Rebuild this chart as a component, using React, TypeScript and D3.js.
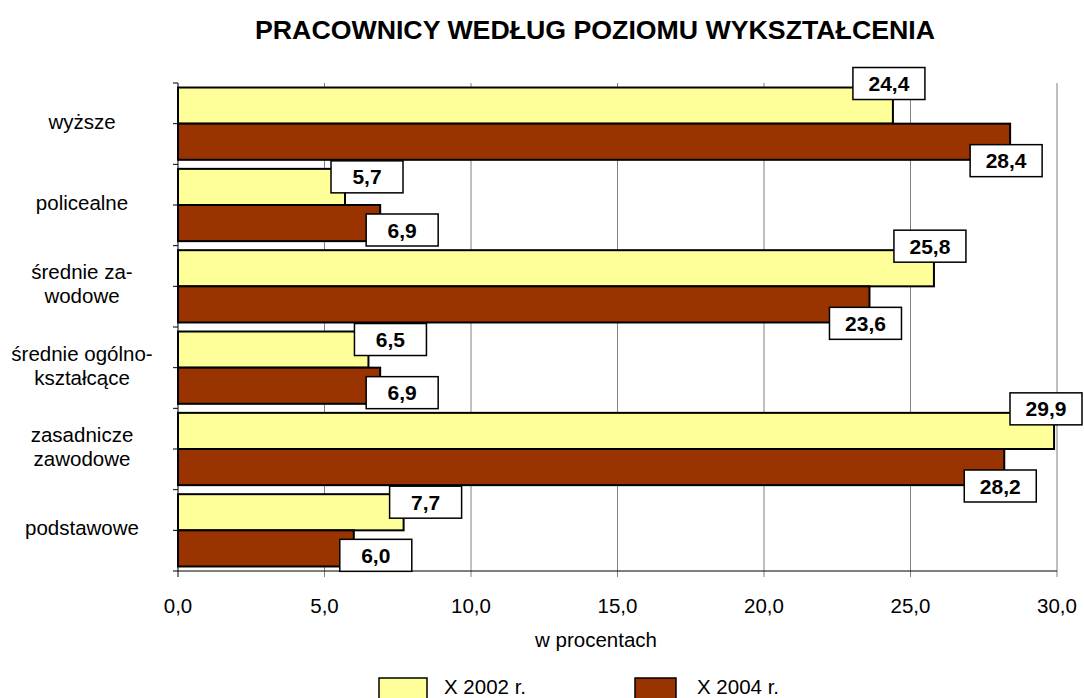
import React, { useEffect, useRef } from 'react';
import * as d3 from 'd3';

const categories = [
  ['wyższe'],
  ['policealne'],
  ['średnie za-', 'wodowe'],
  ['średnie ogólno-', 'kształcące'],
  ['zasadnicze', 'zawodowe'],
  ['podstawowe'],
];
const seriesNames = ['X 2002 r.', 'X 2004 r.'];
const values2002 = [24.4, 5.7, 25.8, 6.5, 29.9, 7.7];
const values2004 = [28.4, 6.9, 23.6, 6.9, 28.2, 6.0];
const xTicks = [0, 5, 10, 15, 20, 25, 30];

const colors = ['#FFFF99', '#993300'];
const fmt = (v: number) => v.toFixed(1).replace('.', ',');
const font = 'Arial, "Liberation Sans", sans-serif';

const App: React.FC = () => {
  const svgRef = useRef<SVGSVGElement>(null);

  useEffect(() => {
    if (!svgRef.current) return;
    const svg = d3.select(svgRef.current);
    svg.selectAll('*').remove();

    const left = 178, right = 1057, top = 83, bottom = 571;

    const x = d3.scaleLinear().domain([0, 30]).range([left, right]);
    const y = d3.scaleBand<number>()
      .domain(d3.range(categories.length))
      .range([top, bottom]);
    const inner = d3.scaleBand<number>()
      .domain([0, 1])
      .range([0, y.bandwidth()])
      .paddingOuter(0.125)
      .paddingInner(0);

    svg.append('text')
      .attr('x', 255).attr('y', 39)
      .attr('textLength', 680).attr('lengthAdjust', 'spacingAndGlyphs')
      .attr('font-family', font).attr('font-weight', 'bold').attr('font-size', '25px')
      .text('PRACOWNICY WEDŁUG POZIOMU WYKSZTAŁCENIA');

    // gridlines
    svg.append('g').selectAll('line')
      .data(xTicks.slice(1))
      .enter().append('line')
      .attr('x1', d => x(d)).attr('x2', d => x(d))
      .attr('y1', top).attr('y2', bottom + 6)
      .attr('stroke', '#808080').attr('stroke-width', 1);

    // bars
    const series = [values2002, values2004];
    series.forEach((vals, s) => {
      svg.append('g').selectAll('rect')
        .data(vals)
        .enter().append('rect')
        .attr('x', x(0))
        .attr('y', (_, i) => (y(i) as number) + (inner(s) as number))
        .attr('width', d => x(d) - x(0))
        .attr('height', inner.bandwidth())
        .attr('fill', colors[s])
        .attr('stroke', '#000').attr('stroke-width', 2);
    });

    // axes
    svg.append('line')
      .attr('x1', left).attr('x2', left).attr('y1', top).attr('y2', bottom + 6)
      .attr('stroke', '#000').attr('stroke-width', 1);
    svg.append('line')
      .attr('x1', left).attr('x2', right).attr('y1', bottom).attr('y2', bottom)
      .attr('stroke', '#000').attr('stroke-width', 1);
    const halfTicks = d3.range(categories.length * 2 + 1).map(k => top + k * y.bandwidth() / 2);
    svg.append('g').selectAll('line')
      .data(halfTicks)
      .enter().append('line')
      .attr('x1', left - 5).attr('x2', left)
      .attr('y1', d => d).attr('y2', d => d)
      .attr('stroke', '#000').attr('stroke-width', 1);

    // x tick labels
    svg.append('g').selectAll('text')
      .data(xTicks)
      .enter().append('text')
      .attr('x', d => x(d)).attr('y', 613)
      .attr('text-anchor', 'middle')
      .attr('font-family', font).attr('font-size', '20.5px')
      .text(d => fmt(d));

    svg.append('text')
      .attr('x', 596).attr('y', 647)
      .attr('text-anchor', 'middle')
      .attr('font-family', font).attr('font-size', '20.5px')
      .text('w procentach');

    // category labels
    categories.forEach((lines, i) => {
      const cy = (y(i) as number) + y.bandwidth() / 2;
      const t = svg.append('text')
        .attr('text-anchor', 'middle')
        .attr('font-family', font).attr('font-size', '20.5px');
      lines.forEach((ln, j) => {
        t.append('tspan')
          .attr('x', 82)
          .attr('y', cy + 5 + (j - (lines.length - 1) / 2) * 24)
          .text(ln);
      });
    });

    // data labels
    const boxW = 72, boxH = 32;
    series.forEach((vals, s) => {
      vals.forEach((v, i) => {
        const big = v > 15;
        const barTop = (y(i) as number) + (inner(s) as number);
        const by = s === 0 ? barTop - (big ? 20 : 8) : barTop + (big ? 21 : 9);
        let bx = x(v) - (big ? 40 : 14);
        if (bx + boxW > 1082) bx = 1082 - boxW;
        svg.append('rect')
          .attr('x', bx).attr('y', by)
          .attr('width', boxW).attr('height', boxH)
          .attr('fill', '#fff').attr('stroke', '#000').attr('stroke-width', 1.5);
        svg.append('text')
          .attr('x', bx + boxW / 2).attr('y', by + boxH / 2 + 7.5)
          .attr('text-anchor', 'middle')
          .attr('font-family', font).attr('font-weight', 'bold').attr('font-size', '21px')
          .text(fmt(v));
      });
    });

    // legend
    const legendX = [379, 635];
    seriesNames.forEach((name, s) => {
      svg.append('rect')
        .attr('x', legendX[s]).attr('y', 678)
        .attr('width', s === 0 ? 48 : 41).attr('height', 24)
        .attr('fill', colors[s]).attr('stroke', '#000').attr('stroke-width', 1.5);
      svg.append('text')
        .attr('x', legendX[s] + (s === 0 ? 65 : 62)).attr('y', 694)
        .attr('font-family', font).attr('font-size', '20.5px')
        .text(name);
    });
  }, []);

  return (
    <div style={{ position: 'absolute', left: 0, top: 0 }}>
      <svg ref={svgRef} width={1084} height={698} style={{ display: 'block', background: '#fff' }} />
    </div>
  );
};

export default App;
